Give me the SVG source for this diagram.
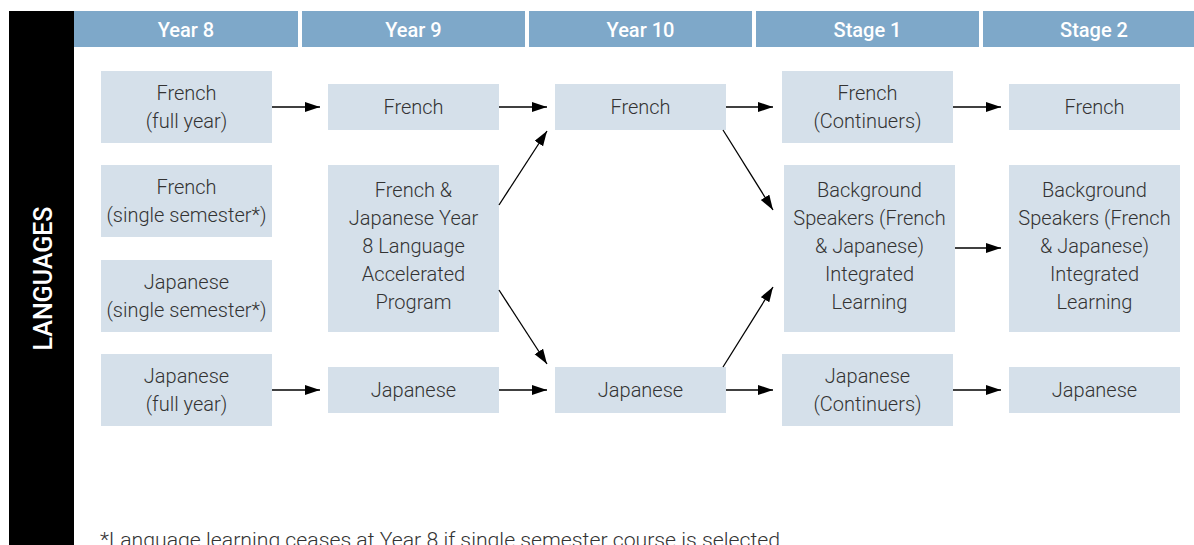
<svg xmlns="http://www.w3.org/2000/svg" width="1194" height="545" viewBox="0 0 1194 545">
<defs>
<style>
.hd{fill:#7ea8c9}
.hdt{fill:#fff;font-family:Roboto,"Liberation Sans",sans-serif;font-weight:500;font-size:20px;text-anchor:middle}
.bx{fill:#d5e0ea}
.t{fill:#333;font-family:Roboto,"Liberation Sans",sans-serif;font-weight:300;font-size:20px;text-anchor:middle}
.c{stroke:#000;stroke-width:1.3;fill:none;marker-end:url(#ah)}
</style>
<marker id="ah" markerUnits="userSpaceOnUse" markerWidth="16" markerHeight="12" refX="15" refY="5" orient="auto"><path d="M0,0 L15,5 L0,10 z" fill="#000"/></marker>
</defs>
<rect width="1194" height="545" fill="#fff"/>
<g id="side">
<rect x="9" y="11" width="65" height="534" fill="#000"/>
<text transform="translate(52,278.5) rotate(-90)" style="fill:#fff;font-family:Roboto,'Liberation Sans',sans-serif;font-weight:500;font-size:25px;text-anchor:middle">LANGUAGES</text>
</g>
<g id="header">
<rect class="hd" x="74" y="11" width="224" height="36"/><text class="hdt" x="186" y="36.5">Year 8</text>
<rect class="hd" x="302" y="11" width="223" height="36"/><text class="hdt" x="413.5" y="36.5">Year 9</text>
<rect class="hd" x="529" y="11" width="223" height="36"/><text class="hdt" x="640.5" y="36.5">Year 10</text>
<rect class="hd" x="756" y="11" width="223" height="36"/><text class="hdt" x="867.5" y="36.5">Stage 1</text>
<rect class="hd" x="983" y="11" width="211" height="36"/><text class="hdt" x="1094" y="36.5">Stage 2</text>
</g>
<g id="y8-french-full"><rect class="bx" x="101" y="71" width="171" height="72"/><text class="t" x="186.5" y="100">French</text><text class="t" x="186.5" y="128">(full year)</text></g>
<g id="y8-french-single"><rect class="bx" x="101" y="165" width="171" height="72"/><text class="t" x="186.5" y="194">French</text><text class="t" x="186.5" y="222">(single semester*)</text></g>
<g id="y8-japanese-single"><rect class="bx" x="101" y="260" width="171" height="72"/><text class="t" x="186.5" y="289">Japanese</text><text class="t" x="186.5" y="317">(single semester*)</text></g>
<g id="y8-japanese-full"><rect class="bx" x="101" y="354" width="171" height="72"/><text class="t" x="186.5" y="383">Japanese</text><text class="t" x="186.5" y="411">(full year)</text></g>
<g id="y9-french"><rect class="bx" x="328" y="84" width="171" height="46"/><text class="t" x="413.5" y="114">French</text></g>
<g id="y9-accel"><rect class="bx" x="328" y="165" width="171" height="167"/><text class="t" x="413.5" y="197">French &amp;</text><text class="t" x="413.5" y="225">Japanese Year</text><text class="t" x="413.5" y="253">8 Language</text><text class="t" x="413.5" y="281">Accelerated</text><text class="t" x="413.5" y="309">Program</text></g>
<g id="y9-japanese"><rect class="bx" x="328" y="367" width="171" height="46"/><text class="t" x="413.5" y="397">Japanese</text></g>
<g id="y10-french"><rect class="bx" x="555" y="84" width="171" height="46"/><text class="t" x="640.5" y="114">French</text></g>
<g id="y10-japanese"><rect class="bx" x="555" y="367" width="171" height="46"/><text class="t" x="640.5" y="397">Japanese</text></g>
<g id="s1-french"><rect class="bx" x="782" y="71" width="171" height="72"/><text class="t" x="867.5" y="100">French</text><text class="t" x="867.5" y="128">(Continuers)</text></g>
<g id="s1-background"><rect class="bx" x="784" y="165" width="171" height="167"/><text class="t" x="869.5" y="197">Background</text><text class="t" x="869.5" y="225">Speakers (French</text><text class="t" x="869.5" y="253">&amp; Japanese)</text><text class="t" x="869.5" y="281">Integrated</text><text class="t" x="869.5" y="309">Learning</text></g>
<g id="s1-japanese"><rect class="bx" x="782" y="354" width="171" height="72"/><text class="t" x="867.5" y="383">Japanese</text><text class="t" x="867.5" y="411">(Continuers)</text></g>
<g id="s2-french"><rect class="bx" x="1009" y="84" width="171" height="46"/><text class="t" x="1094.5" y="114">French</text></g>
<g id="s2-background"><rect class="bx" x="1009" y="165" width="171" height="167"/><text class="t" x="1094.5" y="197">Background</text><text class="t" x="1094.5" y="225">Speakers (French</text><text class="t" x="1094.5" y="253">&amp; Japanese)</text><text class="t" x="1094.5" y="281">Integrated</text><text class="t" x="1094.5" y="309">Learning</text></g>
<g id="s2-japanese"><rect class="bx" x="1009" y="367" width="171" height="46"/><text class="t" x="1094.5" y="397">Japanese</text></g>
<g id="connectors">
<line class="c" x1="272" y1="107" x2="320" y2="107"/>
<line class="c" x1="499" y1="107" x2="547" y2="107"/>
<line class="c" x1="726" y1="107" x2="773" y2="107"/>
<line class="c" x1="953" y1="107" x2="1001" y2="107"/>
<line class="c" x1="272" y1="390" x2="320" y2="390"/>
<line class="c" x1="499" y1="390" x2="547" y2="390"/>
<line class="c" x1="726" y1="390" x2="773" y2="390"/>
<line class="c" x1="953" y1="390" x2="1001" y2="390"/>
<line class="c" x1="499" y1="205" x2="547" y2="131"/>
<line class="c" x1="499" y1="290" x2="547" y2="364"/>
<line class="c" x1="723" y1="130" x2="773" y2="210"/>
<line class="c" x1="723" y1="367" x2="773" y2="287"/>
<line class="c" x1="955" y1="248" x2="1001" y2="248"/>
</g>
<text x="100" y="547" textLength="680" lengthAdjust="spacingAndGlyphs" style="fill:#333;font-family:Roboto,'Liberation Sans',sans-serif;font-weight:300;font-size:21px">*Language learning ceases at Year 8 if single semester course is selected</text>
</svg>
